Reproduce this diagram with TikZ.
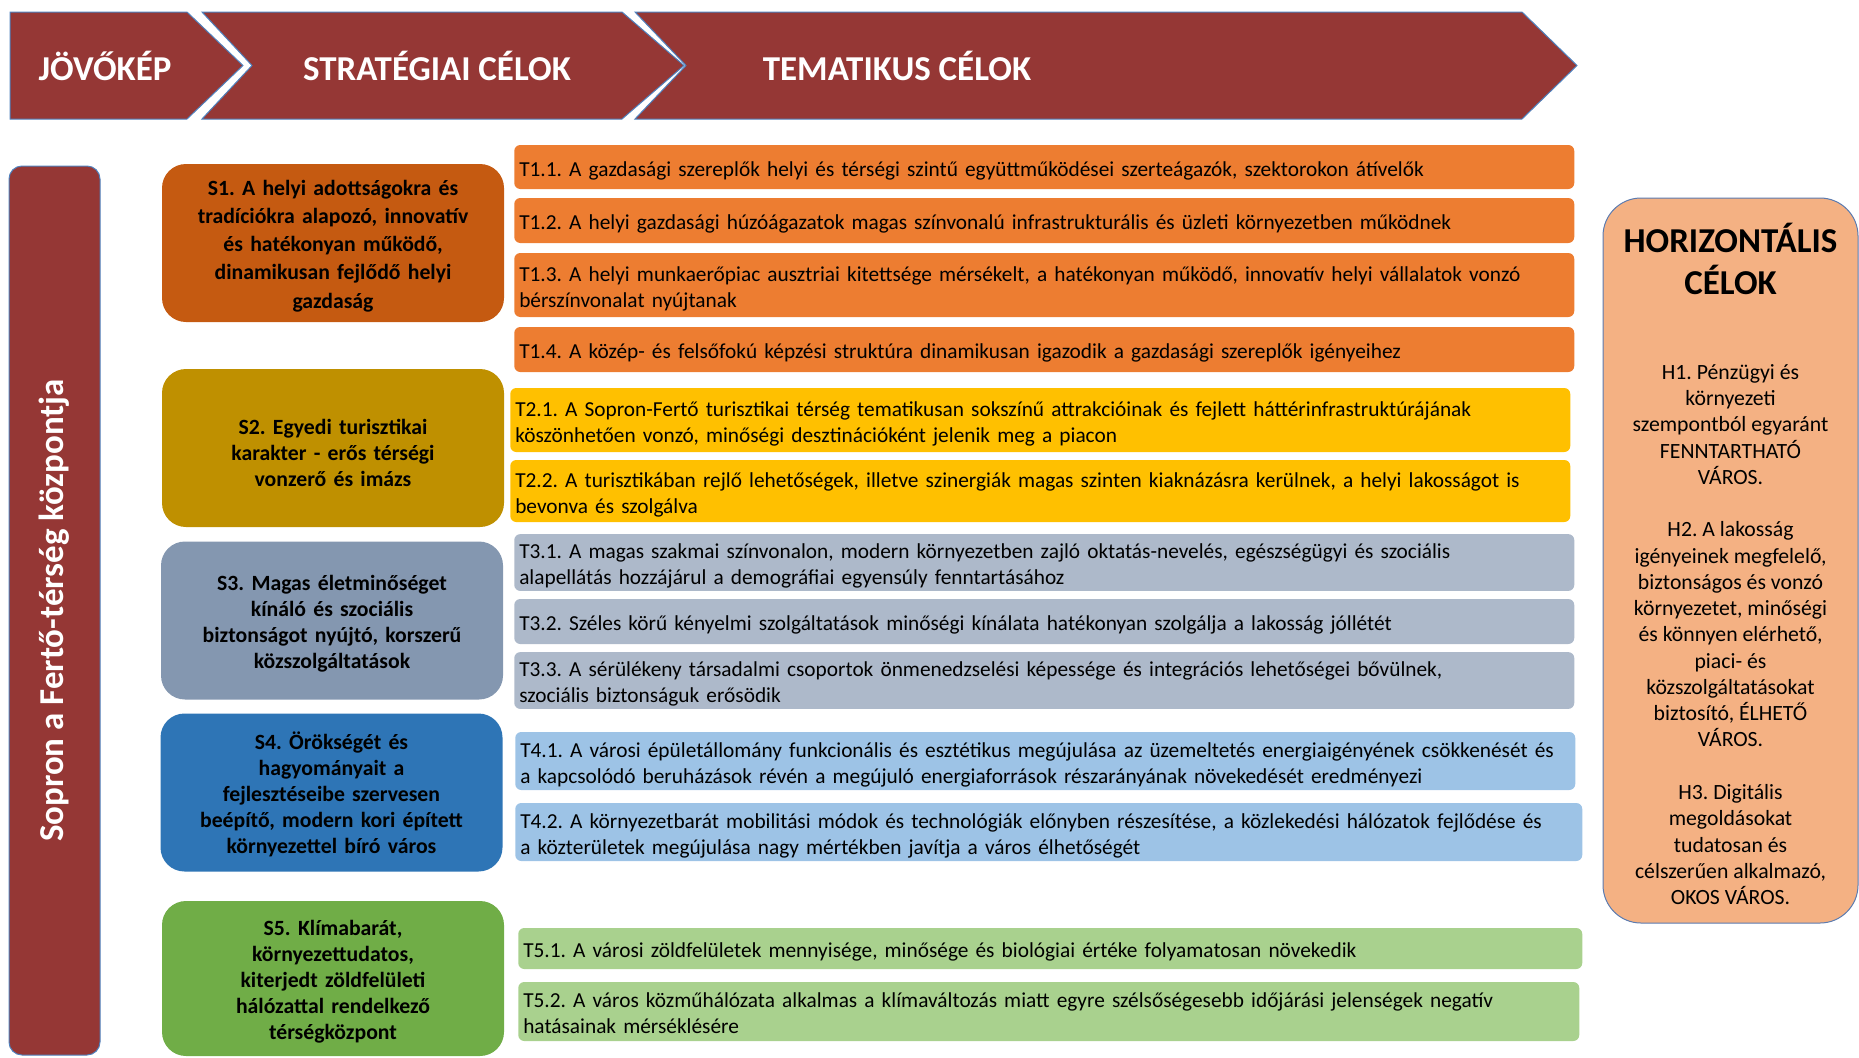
\documentclass[tikz,border=0pt]{standalone}
\usepackage{fontspec}
\setmainfont{Carlito}
\frenchspacing

\newdimen\pxu \pxu=0.75pt

\definecolor{headred}{HTML}{953735}
\definecolor{edgeblue}{HTML}{4F81BD}
\definecolor{sone}{HTML}{C55A11}
\definecolor{tone}{HTML}{ED7D31}
\definecolor{stwo}{HTML}{BF9000}
\definecolor{ttwo}{HTML}{FFC000}
\definecolor{sthree}{HTML}{8497B0}
\definecolor{tthree}{HTML}{ADB9CA}
\definecolor{sfour}{HTML}{2E75B6}
\definecolor{tfour}{HTML}{9DC3E6}
\definecolor{sfive}{HTML}{70AD47}
\definecolor{tfive}{HTML}{A9D18E}
\definecolor{hfill}{HTML}{F4B183}
\definecolor{hedge}{HTML}{5B7BB0}

\tikzset{
  bigfont/.style={font=\fontsize{26.2}{31.5}\selectfont\bfseries},
  sbox/.style={rounded corners=24\pxu, minimum width=342\pxu, minimum height=158\pxu,
    text width=330\pxu, align=center, inner sep=0pt,
    font=\fontsize{16.3}{19.5}\selectfont\bfseries,
    execute at begin node={\rule{0pt}{17pt}},
    execute at end node={\rule[-4pt]{0pt}{4pt}}},
  tbox/.style={rounded corners=6\pxu, anchor=west, text width=1050\pxu,
    inner xsep=5\pxu, inner ysep=0pt, align=left,
    font=\fontsize{16}{19.6}\selectfont,
    execute at begin node={\rule{0pt}{18.5pt}},
    execute at end node={\rule[-4.5pt]{0pt}{4.5pt}}},
}

\begin{document}
\begin{tikzpicture}[x=\pxu,y=-\pxu]

      \useasboundingbox (0,0) rectangle (1859,1057);

      % header arrows
      \begin{scope}[fill=headred, draw=edgeblue, line width=1\pxu]
        \filldraw (10,12) -- (187,12) -- (243,65.5) -- (187,119) -- (10,119) -- cycle;
        \filldraw (202,12) -- (622,12) -- (684,65.5) -- (622,119) -- (202,119) -- (252,65.5) -- cycle;
        \filldraw (635,12) -- (1522,12) -- (1577,65.5) -- (1522,119) -- (635,119) -- (686,65.5) -- cycle;
      \end{scope}

      \begin{scope}[every node/.style={bigfont, text=white}]
        \node (vision)   at (105,66) {JÖVŐKÉP};
        \node (strategy) at (437,66) {STRATÉGIAI CÉLOK};
        \node (thematic) at (897,66) {TEMATIKUS CÉLOK};
      \end{scope}

      % left bar
      \node[bigfont, text=white, fill=headred, draw=edgeblue, line width=1\pxu,
            rounded corners=13\pxu, rotate=90, minimum width=889\pxu,
            minimum height=91\pxu] (centre) at (54.5,610.5) {Sopron a Fertő-térség központja};

      % strategic goals
      \begin{scope}[every node/.style={sbox}]
        \node[fill=sone, font=\fontsize{16.3}{21.2}\selectfont\bfseries] (S1) at (333,243)
          {S1. A helyi adottságokra és\\tradíciókra alapozó, innovatív\\és hatékonyan működő,\\dinamikusan fejlődő helyi\\gazdaság};
        \node[fill=stwo, execute at begin node={\rule{0pt}{22pt}}] (S2) at (333,448) {S2. Egyedi turisztikai\\karakter - erős térségi\\vonzerő és imázs};
        \node[fill=sthree, execute at begin node={\rule{0pt}{14pt}}] (S3) at (332,620.5) {S3. Magas életminőséget\\kínáló és szociális\\biztonságot nyújtó, korszerű\\közszolgáltatások};
        \node[fill=sfour]  (S4) at (331.5,792.5) {S4. Örökségét és\\hagyományait a\\fejlesztéseibe szervesen\\beépítő, modern kori épített\\környezettel bíró város};
        \node[fill=sfive, minimum height=155\pxu] (S5) at (333,978.5) {S5. Klímabarát,\\környezettudatos,\\kiterjedt zöldfelületi\\hálózattal rendelkező\\térségközpont};
      \end{scope}

      % thematic goals
      \begin{scope}[every node/.style={tbox}]
        \node[fill=tone, minimum height=44\pxu] (T11) at (514,167)   {T1.1. A gazdasági szereplők helyi és térségi szintű együttműködései szerteágazók, szektorokon átívelők};
        \node[fill=tone, minimum height=45\pxu] (T12) at (514,220.5) {T1.2. A helyi gazdasági húzóágazatok magas színvonalú infrastrukturális és üzleti környezetben működnek};
        \node[fill=tone, minimum height=64\pxu] (T13) at (514,285)   {T1.3. A helyi munkaerőpiac ausztriai kitettsége mérsékelt, a hatékonyan működő, innovatív helyi vállalatok vonzó\\bérszínvonalat nyújtanak};
        \node[fill=tone, minimum height=45\pxu] (T14) at (514,349.5) {T1.4. A közép- és felsőfokú képzési struktúra dinamikusan igazodik a gazdasági szereplők igényeihez};

        \node[fill=ttwo, minimum height=64\pxu] (T21) at (510,420)   {T2.1. A Sopron-Fertő turisztikai térség tematikusan sokszínű attrakcióinak és fejlett háttérinfrastruktúrájának\\köszönhetően vonzó, minőségi desztinációként jelenik meg a piacon};
        \node[fill=ttwo, minimum height=62\pxu] (T22) at (510,491)   {T2.2. A turisztikában rejlő lehetőségek, illetve szinergiák magas szinten kiaknázásra kerülnek, a helyi lakosságot is\\bevonva és szolgálva};

        \node[fill=tthree, minimum height=55\pxu] (T31) at (514,562.5) {T3.1. A magas szakmai színvonalon, modern környezetben zajló oktatás-nevelés, egészségügyi és szociális\\alapellátás hozzájárul a demográfiai egyensúly fenntartásához};
        \node[fill=tthree, minimum height=45\pxu] (T32) at (514,621.5) {T3.2. Széles körű kényelmi szolgáltatások minőségi kínálata hatékonyan szolgálja a lakosság jóllétét};
        \node[fill=tthree, minimum height=55\pxu] (T33) at (514,680.5) {T3.3. A sérülékeny társadalmi csoportok önmenedzselési képessége és integrációs lehetőségei bővülnek,\\szociális biztonságuk erősödik};

        \node[fill=tfour, minimum height=58\pxu] (T41) at (515,761) {T4.1. A városi épületállomány funkcionális és esztétikus megújulása az üzemeltetés energiaigényének csökkenését és\\a kapcsolódó beruházások révén a megújuló energiaforrások részarányának növekedését eredményezi};
        \node[fill=tfour, minimum height=58\pxu, text width=1057\pxu] (T42) at (515,832) {T4.2. A környezetbarát mobilitási módok és technológiák előnyben részesítése, a közlekedési hálózatok fejlődése és\\a közterületek megújulása nagy mértékben javítja a város élhetőségét};

        \node[fill=tfive, minimum height=41\pxu, text width=1054\pxu] (T51) at (518,948.5) {T5.1. A városi zöldfelületek mennyisége, minősége és biológiai értéke folyamatosan növekedik};
        \node[fill=tfive, minimum height=59\pxu, text width=1051\pxu] (T52) at (518,1011.5) {T5.2. A város közműhálózata alkalmas a klímaváltozás miatt egyre szélsőségesebb időjárási jelenségek negatív\\hatásainak mérséklésére};
      \end{scope}

      % horizontal goals
      \node[fill=hfill, draw=hedge, line width=1\pxu, rounded corners=38\pxu,
            minimum width=255\pxu, minimum height=725\pxu] (H) at (1730.5,560.5) {};
      \node[align=center, font=\fontsize{26.2}{31.5}\selectfont\bfseries] (Htitle) at (1730.5,258.5) {HORIZONTÁLIS\\CÉLOK};
      \node[align=center, font=\fontsize{16.3}{19.7}\selectfont] (Hbody) at (1730.5,634.5)
        {H1. Pénzügyi és\\környezeti\\szempontból egyaránt\\FENNTARTHATÓ\\VÁROS.\\[19.7pt]
         H2. A lakosság\\igényeinek megfelelő,\\biztonságos és vonzó\\környezetet, minőségi\\és könnyen elérhető,\\piaci- és\\közszolgáltatásokat\\biztosító, ÉLHETŐ\\VÁROS.\\[19.7pt]
         H3. Digitális\\megoldásokat\\tudatosan és\\célszerűen alkalmazó,\\OKOS VÁROS.};

    \end{tikzpicture}
\end{document}
